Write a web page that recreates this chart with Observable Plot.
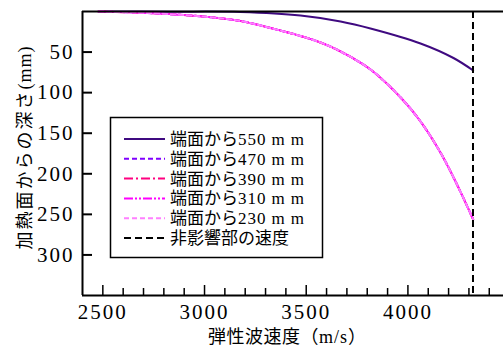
<!DOCTYPE html>
<html><head><meta charset="utf-8">
<script src="https://cdn.jsdelivr.net/npm/d3@7"></script>
<script src="https://cdn.jsdelivr.net/npm/@observablehq/plot@0.6"></script>
<style>body{margin:0;background:#fff}</style>
</head><body><div id="chart"></div>
<script>
// ---- data ----
const velocity550 = [2479, 2833, 3177, 3472, 3669, 3816, 4062, 4224, 4321];
const depth550    = [0,    0.2,  0.6,  4.9,  12.3, 20.9, 39.4, 57.3, 72.7];
// 470 / 390 / 310 / 230 mm curves coincide in the picture
const velocityNear = [2479, 2720, 2980, 3177, 3324, 3472, 3570, 3669, 3816, 3964, 4062, 4160, 4239, 4321];
const depthNear    = [0,    1.85, 5.9,  11.7, 20.3, 30.2, 38.2, 49.3, 71.5, 106,  135.6, 173.8, 212, 256.3];
const seriesNames  = ["端面から550mm", "端面から470mm", "端面から390mm", "端面から310mm", "端面から230mm"];
const seriesColors = ["#3f0a80", "#8000ff", "#ff0080", "#ff00ff", "#ff80ff"];
const seriesDash   = [null, "5,3", "9,3,2,3", "9,2,2,2,2,2", "5,3"];
const unaffectedLabel = "非影響部の速度";
const unaffectedVelocity = [4320];
const xMajorTicks = [2500, 3000, 3500, 4000];
const xMinorTicks = [2600, 2700, 2800, 2900, 3100, 3200, 3300, 3400, 3600, 3700, 3800, 3900, 4100, 4200, 4300, 4400];
const yTicks = [50, 100, 150, 200, 250, 300];
const xDomain = [2400, 4470];
const yDomain = [0, 350];
const xTitle = "弾性波速度（m/s）";
const yTitle = "加熱面からの深さ(mm)";

// ---- build table ----
const rows = [];
seriesNames.forEach((name, i) => {
  const vs = i === 0 ? velocity550 : velocityNear;
  const ds = i === 0 ? depth550 : depthNear;
  vs.forEach((v, j) => rows.push({series: name, v, d: ds[j]}));
});

const W = 503, H = 347, mL = 82, mT = 11, mB = 52, mR = 0;
const frameH = H - mT - mB, frameW = W - mL - mR;
const serif = "'Liberation Serif', 'Times New Roman', serif";
const cjk = "'Noto Sans CJK JP', sans-serif";

const lineMarks = seriesNames.map((name, i) =>
  Plot.line(rows.filter(r => r.series === name), {
    x: "v", y: "d", stroke: seriesColors[i], strokeWidth: 2,
    strokeDasharray: seriesDash[i] || undefined, curve: "catmull-rom"
  })
);

const plot = Plot.plot({
  width: W, height: H,
  marginLeft: mL, marginTop: mT, marginBottom: mB, marginRight: mR,
  style: {fontFamily: serif, fontSize: "21px", background: "white", overflow: "visible"},
  x: {domain: xDomain},
  y: {domain: yDomain, reverse: true},
  marks: [
    ...lineMarks,
    Plot.ruleX(unaffectedVelocity, {stroke: "black", strokeWidth: 2, strokeDasharray: "7,4"}),
    // frame (top, bottom, left)
    Plot.ruleY([yDomain[0], yDomain[1]], {stroke: "black", strokeWidth: 2}),
    Plot.ruleX([xDomain[0]], {stroke: "black", strokeWidth: 2}),
    // inward ticks
    Plot.ruleX(xMajorTicks, {stroke: "black", strokeWidth: 1.5, insetTop: frameH - 10}),
    Plot.ruleX(xMinorTicks, {stroke: "black", strokeWidth: 1.5, insetTop: frameH - 7}),
    Plot.ruleY(yTicks, {stroke: "black", strokeWidth: 2, insetRight: frameW - 10}),
    Plot.axisX(xMajorTicks, {tickSize: 0, tickPadding: 9, label: null, fontSize: 21, fontFamily: serif, tickFormat: d => String(d)}),
    Plot.axisY(yTicks, {tickSize: 0, tickPadding: 8, label: null, fontSize: 21, fontFamily: serif, tickFormat: d => String(d)})
  ]
});
document.getElementById("chart").appendChild(plot);

const svg = d3.select(plot);
svg.selectAll("text").style("letter-spacing", "2px");

// helper: per-character tspans with explicit dx spacing, CJK / latin fonts
const isCJKChar = c => /[\u3000-\u9fff\uff00-\uffef]/.test(c);
function richText(sel, str, size, opts = {}) {
  const chars = Array.from(str);
  chars.forEach((c, k) => {
    let dx = 0;
    if (k > 0) {
      if (c === "m" && opts.mSpacing != null) dx = opts.mSpacing;
      else dx = isCJKChar(chars[k - 1]) ? (opts.cjkSpacing ?? 1) : (opts.latinSpacing ?? 1);
    }
    sel.append("tspan").text(c)
      .attr("dx", dx)
      .style("font-family", isCJKChar(c) ? cjk : serif)
      .style("font-size", size + "px")
      .style("letter-spacing", "0px");
  });
}

// legend
const lg = svg.append("g").attr("text-anchor", "start");
lg.append("rect").attr("x", 110.5).attr("y", 117.5).attr("width", 212).attr("height", 140)
  .attr("fill", "white").attr("stroke", "black").attr("stroke-width", 1.5);
const legendItems = seriesNames.map((n, i) => ({name: n, color: seriesColors[i], dash: seriesDash[i]}))
  .concat([{name: unaffectedLabel, color: "black", dash: "7,4"}]);
legendItems.forEach((it, i) => {
  const y = 139 + i * 19.8;
  lg.append("line").attr("x1", 124).attr("x2", 165).attr("y1", y).attr("y2", y)
    .attr("stroke", it.color).attr("stroke-width", 2).attr("stroke-dasharray", it.dash || null);
  const t = lg.append("text").attr("x", 170).attr("y", y + 6).attr("text-anchor", "start");
  richText(t, it.name, 17, {cjkSpacing: 0, latinSpacing: 1, mSpacing: 6});
});

// axis titles
const xt = svg.append("text").attr("x", 287).attr("y", 343).attr("text-anchor", "middle");
richText(xt, xTitle, 18, {cjkSpacing: 0.5, latinSpacing: 1});
const yt = svg.append("text").attr("transform", "translate(31,148) rotate(-90)").attr("text-anchor", "middle");
richText(yt, yTitle, 18, {cjkSpacing: 2, latinSpacing: 1});
</script>
</body></html>
